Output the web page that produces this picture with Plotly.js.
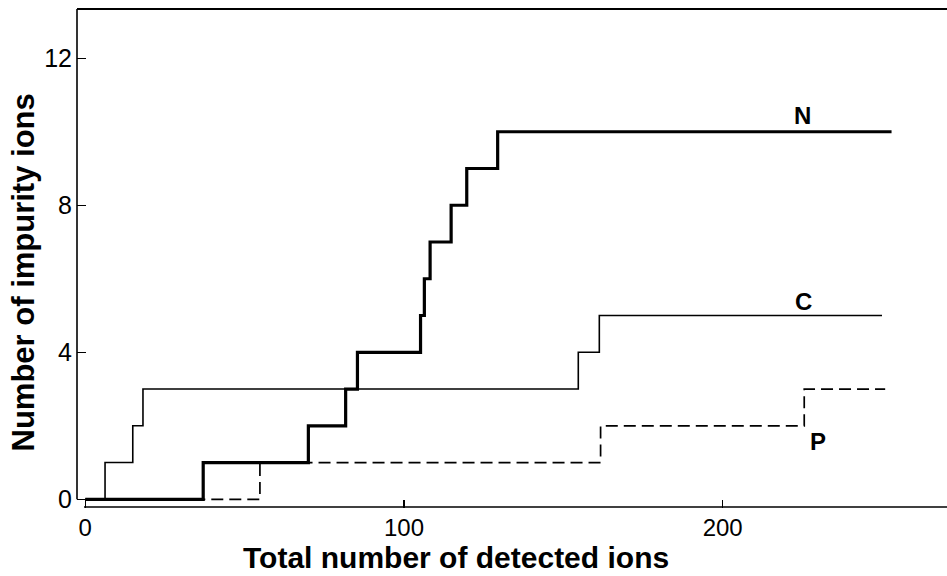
<!DOCTYPE html>
<html>
<head>
<meta charset="utf-8">
<script src="https://cdn.plot.ly/plotly-3.0.1.min.js"></script>
<style>
  html, body { margin: 0; padding: 0; background: #ffffff; }
  #chart { width: 947px; height: 576px; }
</style>
</head>
<body>
<div id="chart"></div>
<script>
// ---- data ----
const nX = [0, 37.0, 70.0, 81.7, 85.4, 105.2, 106.4, 108.2, 114.8, 119.7, 129.4, 253.0];
const nY = [0, 1, 2, 3, 4, 5, 6, 7, 8, 9, 10, 10];

const cX = [0, 6.2, 14.9, 18.1, 154.7, 161.3, 250.0];
const cY = [0, 1, 2, 3, 4, 5, 5];

const pX = [0, 54.8, 161.7, 225.6, 251.0];
const pY = [0, 1, 2, 3, 3];

const seriesNames = ['N', 'C', 'P'];
const labelX = [225.2, 225.5, 229.9];
const labelY = [10.45, 5.38, 1.57];

const xTicks = [0, 100, 200];
const yTicks = [0, 4, 8, 12];

const xTitle = 'Total number of detected ions';
const yTitle = 'Number of impurity ions';

// ---- layout ----
const X_MIN = -2.6, X_MAX = 270.4;
const Y_MIN = -0.237, Y_MAX = 13.34;
const FONT = 'Liberation Sans, Arial, Helvetica, sans-serif';

const traces = [
  { x: pX, y: pY, mode: 'lines', line: { shape: 'hv', color: '#000', width: 1.7, dash: '12px,6px' }, name: 'P' },
  { x: cX, y: cY, mode: 'lines', line: { shape: 'hv', color: '#000', width: 1.6 }, name: 'C' },
  { x: nX, y: nY, mode: 'lines', line: { shape: 'hv', color: '#000', width: 3.2 }, name: 'N' }
];

const annotations = seriesNames.map((s, i) => ({
  x: labelX[i], y: labelY[i], xref: 'x', yref: 'y',
  text: s, showarrow: false, xanchor: 'center', yanchor: 'middle',
  font: { family: FONT, size: 24, color: '#000', weight: 'bold' }
}));

annotations.push({
  x: 0.4356, y: -0.0982, xref: 'paper', yref: 'paper',
  text: xTitle, showarrow: false, xanchor: 'center', yanchor: 'middle',
  font: { family: FONT, size: 30, color: '#000', weight: 'bold' }
});
annotations.push({
  x: -0.0615, y: 0.473, xref: 'paper', yref: 'paper',
  text: yTitle, showarrow: false, xanchor: 'center', yanchor: 'middle', textangle: -90,
  font: { family: FONT, size: 31, color: '#000', weight: 'bold' }
});

const shapes = [
  // left axis: from y=0 up to the top
  { type: 'line', xref: 'paper', yref: 'y', x0: 0, x1: 0, y0: 0, y1: Y_MAX, line: { color: '#000', width: 1.6 } },
  // top frame
  { type: 'line', xref: 'paper', yref: 'paper', x0: 0, x1: 1, y0: 1, y1: 1, line: { color: '#000', width: 1.8 } },
  // bottom axis: from x=0 rightwards
  { type: 'line', xref: 'x', yref: 'paper', x0: -0.4, x1: X_MAX, y0: 0.002, y1: 0.002, line: { color: '#000', width: 1.6 } }
];

const layout = {
  width: 947, height: 576,
  margin: { l: 77, r: 0, t: 9, b: 68, pad: 0 },
  paper_bgcolor: '#fff', plot_bgcolor: '#fff',
  showlegend: false,
  font: { family: FONT, color: '#000' },
  xaxis: {
    range: [X_MIN, X_MAX], showgrid: false, zeroline: false, showline: false,
    tickvals: xTicks, ticktext: xTicks.map(String),
    ticks: 'inside', ticklen: 8, tickwidth: 1.5, tickcolor: '#000',
    tickfont: { family: FONT, size: 24, color: '#000' },
    ticklabelstandoff: 3
  },
  yaxis: {
    range: [Y_MIN, Y_MAX], showgrid: false, zeroline: false, showline: false,
    tickvals: yTicks, ticktext: yTicks.map(String),
    ticks: 'inside', ticklen: 9, tickwidth: 1.5, tickcolor: '#000',
    tickfont: { family: FONT, size: 25, color: '#000' },
    ticklabelstandoff: 4
  },
  annotations: annotations,
  shapes: shapes
};

Plotly.newPlot('chart', traces, layout, { staticPlot: true, displayModeBar: false });
</script>
</body>
</html>
